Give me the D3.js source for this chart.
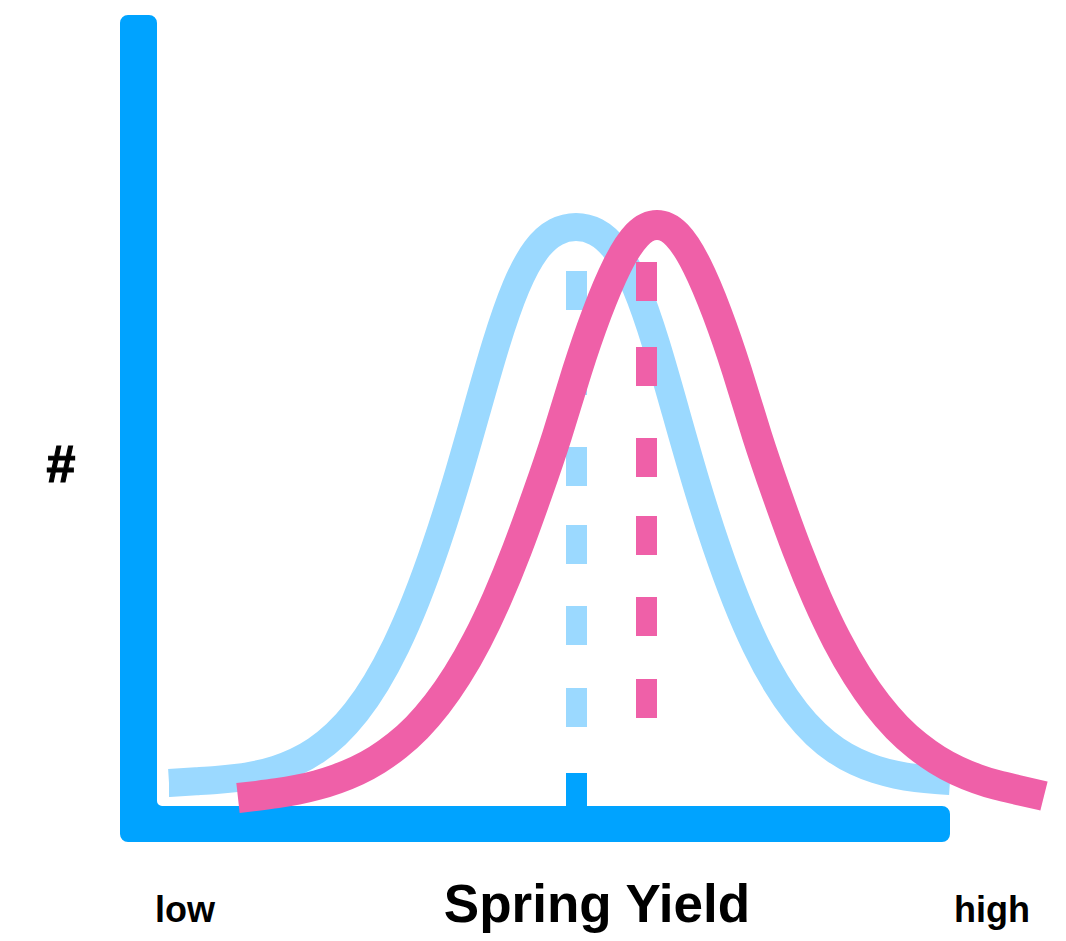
<!DOCTYPE html>
<html>
<head>
<meta charset="utf-8">
<script src="https://cdn.jsdelivr.net/npm/d3@7"></script>
<style>
  html, body { margin: 0; padding: 0; background: #ffffff; }
  svg { display: block; }
  text { font-family: "Liberation Sans", Arial, Helvetica, sans-serif; font-weight: bold; fill: #000; }
</style>
</head>
<body>
<svg id="chart" width="1066" height="941"></svg>
<script>
// ---------- data (arbitrary units: yield index on x, count on y) ----------
const xExtent = [0, 83];      // low .. high
const yExtent = [0, 79.1];    // axis height

// Previous (light blue) distribution
const prevX = [4.9, 7.6, 9.6, 11.6, 13.6, 15.6, 17.6, 19.6, 21.6, 23.6, 25.6, 27.6, 29.6, 31.6, 33.6, 35.6, 37.6,
               39.6, 41.6, 43.6, 45.6, 47.6, 49.6, 51.6, 53.6, 55.6, 57.6, 59.6, 61.6, 63.6, 65.6, 67.6, 69.6,
               71.6, 73.6, 75.6, 77.6, 79.6, 81.6, 83.0];
const prevY = [2.3, 2.47, 2.6, 2.8, 3.13, 3.65, 4.43, 5.57, 7.18, 9.39, 12.31, 16.02, 20.6, 26.07, 32.35, 39.3, 46.2,
               51.9, 55.6, 57.4, 57.9, 57.4, 55.6, 51.9, 46.2, 39.3, 32.35, 26.07, 20.6, 16.02, 12.31, 9.39, 7.18,
               5.57, 4.43, 3.65, 3.13, 2.8, 2.6, 2.5];

// Current (pink) distribution
const currX = [11.8, 13.7, 15.7, 17.7, 19.7, 21.7, 23.7, 25.7, 27.7, 29.7, 31.7, 33.7, 35.7, 37.7, 39.7, 41.7, 43.7,
               45.7, 47.7, 49.7, 51.7, 53.7, 55.7, 57.7, 59.7, 61.7, 63.7, 65.7, 67.7, 69.7, 71.7, 73.7, 75.7,
               77.7, 79.7, 81.7, 83.7, 85.7, 87.7, 89.7, 92.4];
const currY = [0.8, 1.02, 1.28, 1.62, 2.09, 2.72, 3.54, 4.63, 6.05, 7.86, 10.17, 13.04, 16.55, 20.75, 25.63, 31.12, 37.03,
               43.5, 49.3, 54.0, 57.1, 58.1, 57.1, 54.0, 49.3, 43.5, 37.03, 31.12, 25.63, 20.75, 16.55, 13.04, 10.17,
               7.86, 6.05, 4.63, 3.54, 2.72, 2.09, 1.62, 1.0];

// Mean markers: x position and top of dashed line
const meanX = [45.65, 52.65];
const meanTop = [53.5, 54.4];
const meanTickTop = 3.3;   // solid tick on the axis for the previous mean

// Labels
const xLabelLow = "low";
const xLabelHigh = "high";
const xTitle = "Spring Yield";
const yTitle = "#";

// ---------- styles ----------
const AXIS_BLUE = "#00a3ff";
const LIGHT_BLUE = "#9bd9ff";
const PINK = "#ef60a8";

const svg = d3.select("#chart");
const x = d3.scaleLinear().domain(xExtent).range([120, 950]);
const y = d3.scaleLinear().domain(yExtent).range([806, 15]);

// ---------- axis (L shape) ----------
const x0 = x(xExtent[0]), x1 = x(xExtent[1]);
const y0 = y(yExtent[0]), yTop = y(yExtent[1]);
const TV = 37, TH = 36, r = 8, ri = 5;
const axisPath = [
  `M${x0},${yTop + r}`,
  `A${r},${r} 0 0 1 ${x0 + r},${yTop}`,
  `L${x0 + TV - r},${yTop}`,
  `A${r},${r} 0 0 1 ${x0 + TV},${yTop + r}`,
  `L${x0 + TV},${y0 - ri}`,
  `A${ri},${ri} 0 0 0 ${x0 + TV + ri},${y0}`,
  `L${x1 - r},${y0}`,
  `A${r},${r} 0 0 1 ${x1},${y0 + r}`,
  `L${x1},${y0 + TH - r}`,
  `A${r},${r} 0 0 1 ${x1 - r},${y0 + TH}`,
  `L${x0 + r},${y0 + TH}`,
  `A${r},${r} 0 0 1 ${x0},${y0 + TH - r}`,
  "Z"
].join(" ");
svg.append("path").attr("d", axisPath).attr("fill", AXIS_BLUE);

// ---------- curves ----------
const line = d3.line().x(d => x(d[0])).y(d => y(d[1])).curve(d3.curveNatural);
const prevData = prevX.map((v, i) => [v, prevY[i]]);
const currData = currX.map((v, i) => [v, currY[i]]);

const dash = "39 46 39 52 39 39 39 42 39 43 39 200";

svg.append("path").datum(prevData).attr("d", line)
  .attr("fill", "none").attr("stroke", LIGHT_BLUE).attr("stroke-width", 28).attr("stroke-linecap", "butt");

// previous mean dashed line
svg.append("line")
  .attr("x1", x(meanX[0])).attr("x2", x(meanX[0]))
  .attr("y1", y(meanTop[0])).attr("y2", y(0))
  .attr("stroke", LIGHT_BLUE).attr("stroke-width", 21).attr("stroke-dasharray", dash);
// solid tick at axis
svg.append("line")
  .attr("x1", x(meanX[0])).attr("x2", x(meanX[0]))
  .attr("y1", y(meanTickTop)).attr("y2", y(0))
  .attr("stroke", AXIS_BLUE).attr("stroke-width", 21);

svg.append("path").datum(currData).attr("d", line)
  .attr("fill", "none").attr("stroke", PINK).attr("stroke-width", 30).attr("stroke-linecap", "butt");

svg.append("line")
  .attr("x1", x(meanX[1])).attr("x2", x(meanX[1]))
  .attr("y1", y(meanTop[1])).attr("y2", y(0))
  .attr("stroke", PINK).attr("stroke-width", 21).attr("stroke-dasharray", dash);

// ---------- labels ----------
svg.append("text").attr("x", 185).attr("y", 922).attr("text-anchor", "middle")
  .attr("font-size", 36).text(xLabelLow);
svg.append("text").attr("x", 992).attr("y", 922).attr("text-anchor", "middle")
  .attr("font-size", 36).text(xLabelHigh);
svg.append("text").attr("x", 597).attr("y", 922).attr("text-anchor", "middle")
  .attr("font-size", 53).text(xTitle);
svg.append("text").attr("x", 61).attr("y", 482).attr("text-anchor", "middle")
  .attr("font-size", 52).attr("stroke", "#000").attr("stroke-width", 1.2).text(yTitle);
</script>
</body>
</html>
